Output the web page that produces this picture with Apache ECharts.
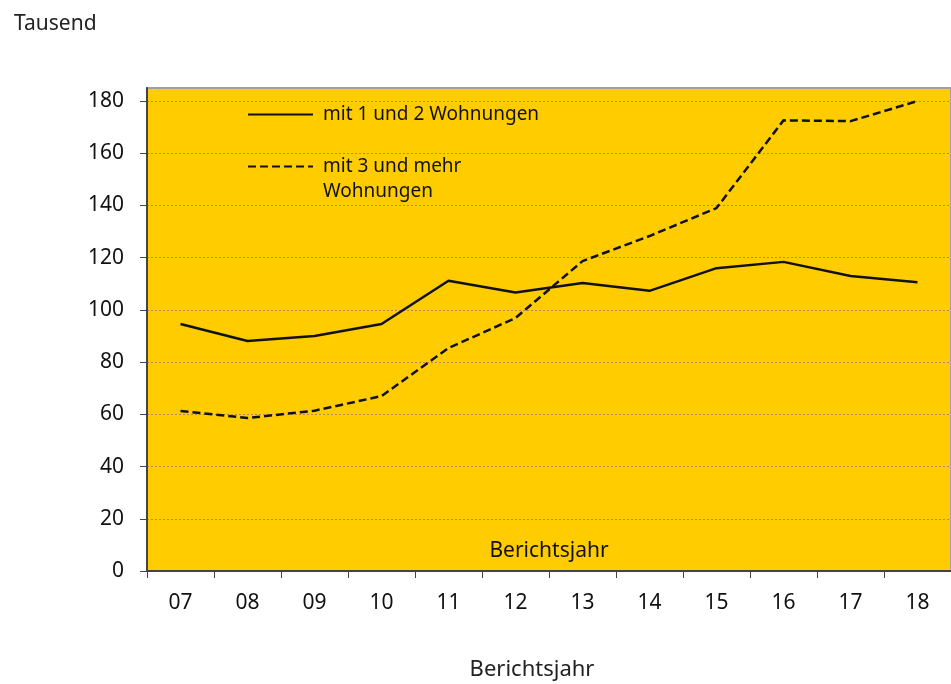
<!DOCTYPE html>
<html>
<head>
<meta charset="utf-8">
<script src="https://cdn.jsdelivr.net/npm/echarts@6/dist/echarts.min.js"></script>
<style>
  html, body { margin: 0; padding: 0; background: #fff; }
  #chart { width: 951px; height: 684px; }
</style>
</head>
<body>
<div id="chart"></div>
<script>
const years = ['07', '08', '09', '10', '11', '12', '13', '14', '15', '16', '17', '18']
const einZwei = [94.6, 88.1, 90.0, 94.6, 111.2, 106.7, 110.3, 107.3, 116.0, 118.4, 113.0, 110.6]
const dreiMehr = [61.3, 58.6, 61.4, 67.0, 85.4, 96.9, 118.7, 128.3, 139.0, 172.6, 172.3, 180.0]
const yTicks = [0, 20, 40, 60, 80, 100, 120, 140, 160, 180]

const nameA = 'mit 1 und 2 Wohnungen'
const nameB = 'mit 3 und mehr\nWohnungen'
const font = 'Noto Sans'

const chart = echarts.init(document.getElementById('chart'))
chart.setOption({
  animation: false,
  textStyle: { fontFamily: font },
  title: [
    {
      text: 'Tausend',
      left: 9, top: 9,
      textStyle: { fontFamily: font, fontSize: 21, fontWeight: 'normal', color: '#222' }
    },
    {
      text: 'Berichtsjahr',
      left: 527, top: 654,
      textAlign: 'center',
      textStyle: { fontFamily: font, fontSize: 22, fontWeight: 'normal', color: '#222' }
    }
  ],
  grid: {
    left: 147, right: 0, top: 88, bottom: 113,
    show: true,
    backgroundColor: '#ffcc00',
    borderColor: '#a0a0a0',
    borderWidth: 2
  },
  legend: [
    {
      data: [nameA],
      left: 242, top: 100,
      itemWidth: 65, itemHeight: 14,
      itemStyle: { opacity: 0 },
      textStyle: { fontSize: 19, color: '#111', padding: [0, 0, 0, 5] }
    },
    {
      data: [nameB],
      left: 242, top: 124,
      itemWidth: 65, itemHeight: 14,
      itemStyle: { opacity: 0 },
      formatter: (n) => ' \n' + n,
      textStyle: { fontSize: 19, color: '#111', lineHeight: 25, padding: [0, 0, 0, 5] }
    }
  ],
  xAxis: {
    type: 'category',
    data: years,
    boundaryGap: true,
    name: 'Berichtsjahr',
    nameLocation: 'middle',
    nameGap: -30,
    nameMoveOverlap: false,
    nameTextStyle: { fontSize: 21, color: '#111', fontFamily: font },
    axisLine: { lineStyle: { color: '#444', width: 2 } },
    axisTick: { show: true, length: 7, lineStyle: { color: '#444', width: 1 } },
    axisLabel: { fontSize: 21, color: '#111', margin: 22 }
  },
  yAxis: {
    type: 'value',
    min: 0, max: 185, interval: 20,
    axisLine: { show: true, lineStyle: { color: '#444', width: 2 } },
    axisTick: { show: true, length: 7, customValues: yTicks, lineStyle: { color: '#444', width: 1 } },
    axisLabel: { fontSize: 21, color: '#111', margin: 23, customValues: yTicks },
    splitLine: { show: true, lineStyle: { color: '#a09060', type: [2, 2], width: 1 } }
  },
  series: [
    {
      name: nameA,
      type: 'line',
      data: einZwei,
      symbol: 'none',
      lineStyle: { color: '#111', width: 2.5 },
      itemStyle: { color: '#111' }
    },
    {
      name: nameB,
      type: 'line',
      data: dreiMehr,
      symbol: 'none',
      lineStyle: { color: '#111', width: 2.5, type: [8, 4] },
      itemStyle: { color: '#111' }
    }
  ]
})
</script>
</body>
</html>
